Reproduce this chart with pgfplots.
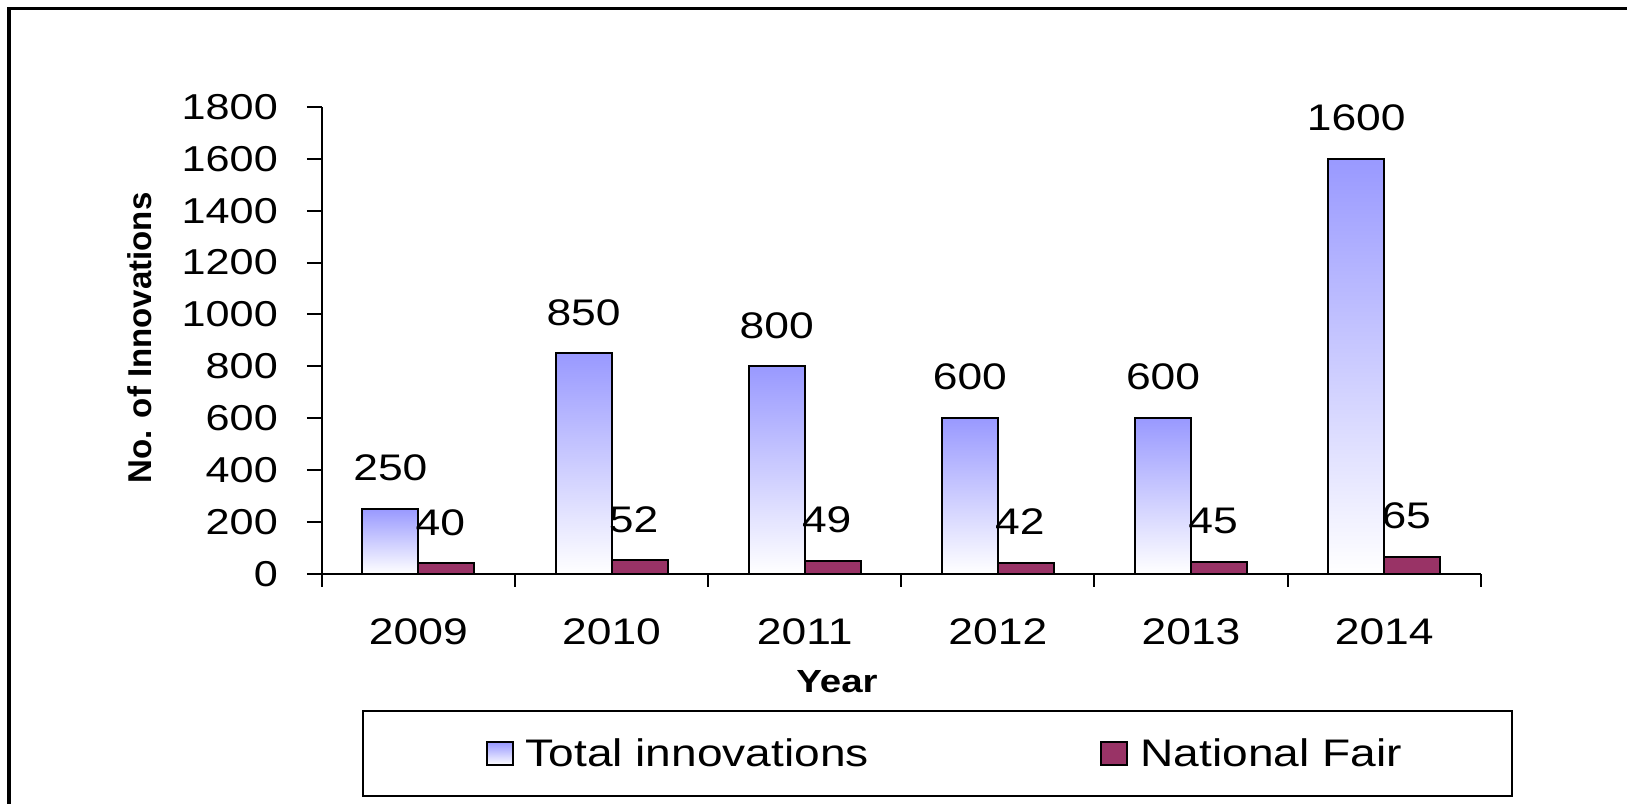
\documentclass[border=0pt]{standalone}
\usepackage{fontspec}
\setmainfont[FakeStretch=1.2]{Liberation Sans}
\newfontfamily\ylabfont{Liberation Sans}
\usepackage{pgfplots}
\pgfplotsset{compat=1.18}
\definecolor{lav}{RGB}{153,153,255}
\definecolor{plum}{RGB}{153,51,102}
\newcommand{\fs}{\fontsize{18.5}{22}\selectfont}
\pgfplotsset{
  totbar/.style={ybar, bar width=28pt, bar shift=-14pt, draw=black, line width=1pt,
    top color=lav, bottom color=white,
    nodes near coords style={xshift=-14pt}},
  natbar/.style={ybar, bar width=28pt, bar shift=14pt, draw=black, line width=1pt, fill=plum,
    nodes near coords style={xshift=11pt}},
}
\begin{document}
\begin{tikzpicture}
\useasboundingbox (-160.9pt,-114.6pt) rectangle (652.6pt,286.9pt);
\begin{axis}[
  scale only axis, width=579.5pt, height=233.4pt,
  xmin=-0.5, xmax=5.5, ymin=0, ymax=1800,
  xtick={0,...,5}, xticklabels={2009,2010,2011,2012,2013,2014},
  minor xtick={-0.5,0.5,1.5,2.5,3.5,4.5,5.5},
  ytick={0,200,...,1800},
  axis x line*=bottom, axis y line*=left,
  axis line style={-, line width=1pt, black},
  tick align=outside,
  major tick length=7.5pt, minor tick length=6.5pt,
  every tick/.style={black, line width=1pt},
  every major x tick/.append style={draw=none},
  /pgf/number format/assume math mode=true,
  /pgf/number format/1000 sep={},
  tick label style={font=\fs},
  yticklabel style={anchor=east, inner sep=0pt, xshift=-14.3pt, font=\fontsize{18}{22}\selectfont},
  xticklabel style={anchor=center, inner sep=0pt, yshift=-21.4pt},
  xlabel={\bfseries Year},
  xlabel style={font=\fontsize{16}{19}\selectfont, at={(axis description cs:0.4445,0)}, anchor=center, yshift=-53.9pt},
  ylabel={\ylabfont\bfseries No. of Innovations},
  ylabel style={font=\fontsize{16.5}{19}\selectfont, at={(axis description cs:-0.1569,0.505)}, anchor=center},
  nodes near coords,
  nodes near coords style={font=\fs, anchor=center, yshift=20.5pt, text=black},
  legend columns=2,
  legend style={at={(axis description cs:0.0347,-0.2918)}, anchor=north west,
    draw=black, line width=1.2pt, inner xsep=55pt, inner ysep=13.5pt,
    font=\fontsize{19.2}{23}\selectfont,
    nodes={inner sep=0pt},
    /tikz/every odd column/.append style={column sep=6pt},
    /tikz/every even column/.append style={column sep=109.6pt}},
  legend cell align=left,
]
\addplot[totbar,
  legend image code/.code={\path[draw=none, fill=none] (-6.7pt,0pt) -- (0pt,0pt);
    \draw[black, line width=1pt, top color=lav, bottom color=white] (0pt,-5.8pt) rectangle (13pt,5.7pt);}]
  coordinates {(0,250)};
\addlegendentry{Total innovations}
\addplot[natbar,
  legend image code/.code={\path[draw=none, fill=none] (-6.7pt,0pt) -- (0pt,0pt);
    \draw[black, line width=1pt, fill=plum] (0pt,-5.8pt) rectangle (13pt,5.7pt);}]
  coordinates {(0,40) (1,52) (2,49) (3,42) (4,45) (5,65)};
\addlegendentry{National Fair}
\addplot[totbar, forget plot] coordinates {(1,850)};
\addplot[totbar, forget plot] coordinates {(2,800)};
\addplot[totbar, forget plot] coordinates {(3,600)};
\addplot[totbar, forget plot] coordinates {(4,600)};
\addplot[totbar, forget plot] coordinates {(5,1600)};
\end{axis}
\draw[line width=1.6pt] (-156.4pt,-200pt) -- (-156.4pt,282.7pt) -- (800pt,282.7pt);
\end{tikzpicture}
\end{document}
